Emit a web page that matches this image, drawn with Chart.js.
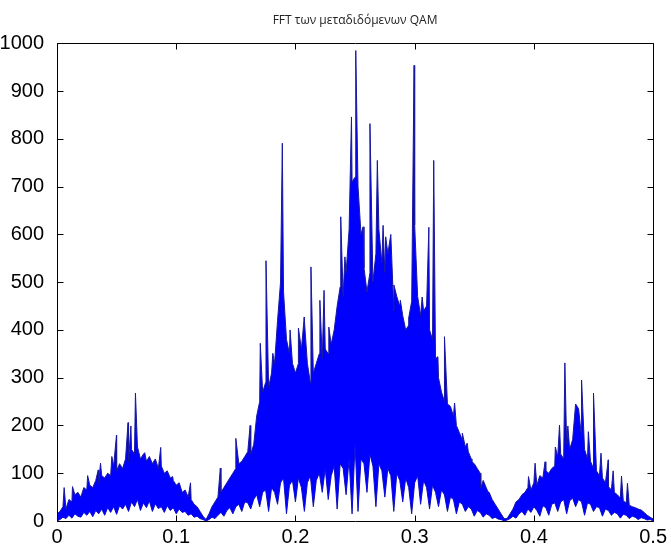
<!DOCTYPE html>
<html>
<head>
<meta charset="utf-8">
<script src="https://cdn.jsdelivr.net/npm/chart.js@4.4.1/dist/chart.umd.min.js"></script>
<style>
html, body { margin: 0; padding: 0; background: #fff; }
canvas { display: block; }
</style>
</head>
<body>
<canvas id="fftChart" width="671" height="552"></canvas>
<script>
var titleText = 'FFT των μεταδιδόμενων QAM';

// spectrum sampled every 0.0025 (0 .. 0.5): upper and lower edge of the dense trace
var step = 0.0025;
var upper = [
    15, 20, 30, 25, 45, 40, 55, 60, 50, 70,
    65, 75, 70, 85, 80, 95, 90, 100, 95, 115,
    105, 120, 110, 130, 125, 150, 140, 155, 130, 140,
    125, 135, 120, 130, 110, 115, 100, 105, 90, 85,
    75, 80, 60, 65, 50, 45, 35, 30, 20, 10,
    3,
    15, 30, 40, 50, 60, 70, 80, 90, 100, 110,
    120, 125, 135, 145, 140, 160, 220, 250, 270, 290,
    280, 310, 330, 420, 500, 480, 380, 350, 330, 310,
    330, 360, 420, 330, 290, 310, 330, 350, 340, 360,
    350, 370, 400, 450, 490, 470, 520, 610, 710, 720,
    700, 600, 530, 480, 520, 500, 560, 610, 540, 520,
    560, 600, 440, 470, 450, 430, 400, 410, 460, 620,
    470, 430, 440, 450, 400, 380, 340, 300, 270, 250,
    245, 240, 220, 200, 185, 170, 155, 145, 130, 120,
    110, 100, 85, 70, 60, 45, 35, 25, 15, 5,
    5, 15, 25, 40, 45, 55, 60, 70, 65, 80,
    75, 95, 90, 105, 100, 110, 115, 135, 140, 130,
    160, 150, 170, 245, 235, 175, 150, 130, 125, 110,
    105, 95, 90, 80, 72, 65, 60, 55, 48, 42,
    38, 33, 30, 28, 25, 23, 18, 12, 8, 4
];
var lower = [
    0, 3, 8, 5, 12, 6, 15, 10, 8, 18,
    12, 20, 9, 22, 15, 25, 12, 28, 18, 30,
    14, 32, 25, 35, 20, 40, 30, 45, 22, 38,
    28, 42, 20, 36, 26, 30, 18, 32, 22, 28,
    15, 25, 18, 20, 12, 15, 8, 10, 5, 3,
    0,
    3, 8, 5, 12, 18, 10, 22, 28, 15, 30,
    35, 20, 40, 38, 25, 45, 55, 30, 60, 65,
    20, 70, 60, 35, 80, 90, 15, 75, 85, 40,
    90, 70, 20, 80, 95, 30, 85, 100, 60, 110,
    45, 95, 115, 25, 120, 110, 55, 130, 15, 160,
    20, 130, 120, 60, 140, 115, 30, 120, 105, 50,
    110, 95, 20, 100, 85, 40, 90, 70, 15, 80,
    95, 35, 85, 70, 25, 75, 60, 30, 65, 55,
    20, 50, 45, 15, 40, 35, 20, 30, 25, 10,
    22, 18, 8, 15, 12, 5, 8, 4, 3, 0,
    2, 5, 10, 6, 15, 20, 12, 25, 18, 30,
    22, 10, 32, 28, 12, 35, 38, 20, 40, 45,
    15, 42, 48, 30, 45, 40, 12, 38, 35, 20,
    30, 28, 10, 25, 22, 12, 18, 15, 6, 14,
    12, 5, 10, 8, 3, 7, 5, 2, 3, 0
];

// isolated tall lines
var spikeFreq = [
    0.006, 0.013, 0.0257, 0.0346, 0.0365, 0.046, 0.0499, 0.0596, 0.062, 0.0658,
    0.0736, 0.087, 0.097, 0.112,
    0.137, 0.150, 0.162, 0.1705, 0.1753, 0.181, 0.189, 0.1955, 0.2025, 0.2074,
    0.213, 0.2205, 0.224, 0.228, 0.238, 0.2415, 0.247, 0.2506, 0.2567, 0.2625,
    0.2687, 0.2735, 0.2757, 0.2826, 0.288, 0.295, 0.2995, 0.3063, 0.3119, 0.316,
    0.3195, 0.325, 0.3335, 0.340, 0.344, 0.348, 0.3555, 0.3615,
    0.3955, 0.401, 0.4094, 0.418, 0.4215, 0.426, 0.4285, 0.44, 0.4457, 0.45,
    0.4563, 0.4624, 0.4665, 0.4735, 0.4785
];
var spikeMag = [
    70, 72, 95, 107, 121, 135, 180, 206, 199, 268,
    143, 154, 93, 80,
    111, 173, 200, 372, 545, 351, 791, 400, 404, 427,
    532, 462, 483, 406, 637, 553, 846, 985, 616, 832,
    755, 619, 595, 494, 462, 425, 954, 469, 615, 755,
    344, 386, 247, 184, 163, 124, 69, 61,
    93, 121, 124, 155, 201, 331, 199, 295, 187, 268,
    142, 128, 105, 94, 79
];

var xTicks = [0, 0.1, 0.2, 0.3, 0.4, 0.5];
var xTickLabels = ['0', '0.1', '0.2', '0.3', '0.4', '0.5'];
var yTicks = [0, 100, 200, 300, 400, 500, 600, 700, 800, 900, 1000];
var yTickLabels = ['0', '100', '200', '300', '400', '500', '600', '700', '800', '900', '1000'];

// top edge with the spikes merged in, bottom edge on its own
var topEdge = [];
var bottomEdge = [];
for (var i = 0; i < upper.length; i++) {
    topEdge.push({x: i * step, y: upper[i]});
    bottomEdge.push({x: i * step, y: lower[i]});
}
for (var j = 0; j < spikeFreq.length; j++) {
    topEdge.push({x: spikeFreq[j], y: spikeMag[j]});
}
topEdge.sort(function(a, b) { return a.x - b.x; });

var tickFont = {family: "'Liberation Sans', Arial, sans-serif", size: 20};
var edgeColor = '#1818a0';

// matlab style box with inward ticks on all four sides
var axesBox = {
    id: 'axesBox',
    afterDatasetsDraw: function(chart) {
        var a = chart.chartArea;
        var ctx = chart.ctx;
        var xs = chart.scales.x, ys = chart.scales.y;
        var len = 6;
        var l = Math.round(a.left) + 0.5, r = Math.round(a.right) + 0.5;
        var t = Math.round(a.top) + 0.5, b = Math.round(a.bottom) + 0.5;
        ctx.save();
        ctx.strokeStyle = '#000';
        ctx.lineWidth = 1;
        ctx.beginPath();
        xTicks.forEach(function(v) {
            var px = Math.round(xs.getPixelForValue(v)) + 0.5;
            ctx.moveTo(px, b); ctx.lineTo(px, b - len);
            ctx.moveTo(px, t); ctx.lineTo(px, t + len);
        });
        yTicks.forEach(function(v) {
            var py = Math.round(ys.getPixelForValue(v)) + 0.5;
            ctx.moveTo(l, py); ctx.lineTo(l + len, py);
            ctx.moveTo(r, py); ctx.lineTo(r - len, py);
        });
        ctx.rect(l, t, r - l, b - t);
        ctx.stroke();
        ctx.restore();
    }
};

new Chart(document.getElementById('fftChart').getContext('2d'), {
    type: 'line',
    data: {
        datasets: [{
            data: topEdge,
            borderColor: edgeColor,
            backgroundColor: '#0000ff',
            borderWidth: 1,
            pointRadius: 0,
            tension: 0,
            fill: '+1'
        }, {
            data: bottomEdge,
            borderColor: edgeColor,
            borderWidth: 1,
            pointRadius: 0,
            tension: 0,
            fill: false
        }]
    },
    options: {
        responsive: false,
        animation: false,
        layout: {padding: {left: 0, right: 16, top: 0, bottom: 0}},
        plugins: {
            legend: {display: false},
            tooltip: {enabled: false},
            title: {
                display: true,
                fullSize: false,
                text: titleText,
                color: '#222',
                font: {family: "'Open Sans', sans-serif", size: 12, weight: 'normal'},
                padding: {top: 13, bottom: 16}
            }
        },
        scales: {
            x: {
                type: 'linear',
                min: 0,
                max: 0.5,
                afterBuildTicks: function(s) { s.ticks = xTicks.map(function(v) { return {value: v}; }); },
                afterFit: function(s) { s.height = 31; },
                grid: {display: false, drawTicks: false},
                border: {display: false},
                ticks: {
                    autoSkip: false,
                    maxRotation: 0,
                    padding: 4,
                    color: '#000',
                    font: tickFont,
                    callback: function(v, idx) { return xTickLabels[idx]; }
                }
            },
            y: {
                min: 0,
                max: 1000,
                afterBuildTicks: function(s) { s.ticks = yTicks.map(function(v) { return {value: v}; }); },
                afterFit: function(s) { s.width = 57; },
                grid: {display: false, drawTicks: false},
                border: {display: false},
                ticks: {
                    autoSkip: false,
                    padding: 13,
                    color: '#000',
                    font: tickFont,
                    callback: function(v, idx) { return yTickLabels[idx]; }
                }
            }
        }
    },
    plugins: [axesBox]
});
</script>
</body>
</html>
